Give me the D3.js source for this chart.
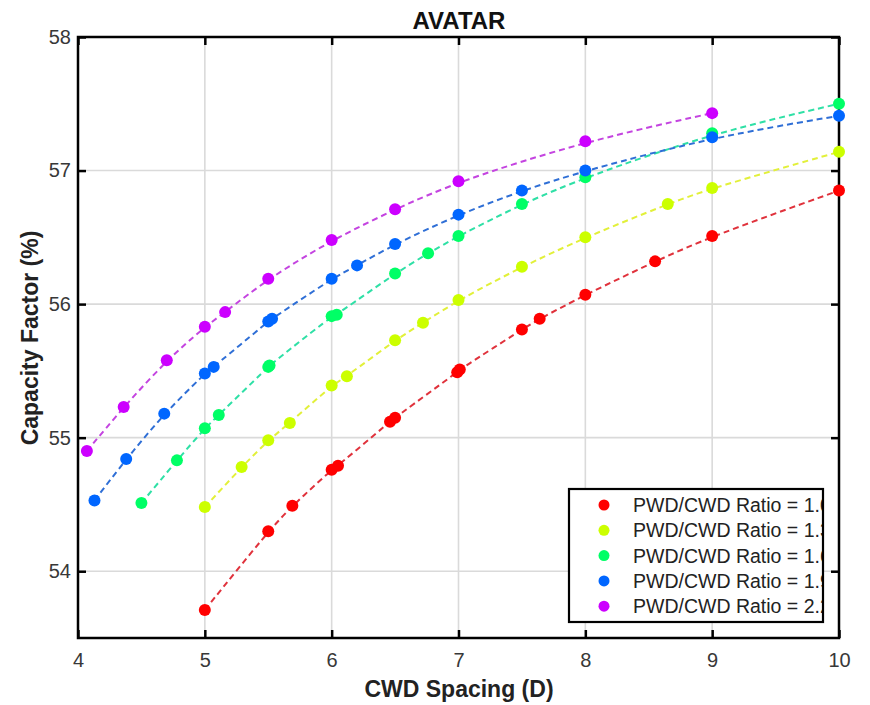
<!DOCTYPE html>
<meta charset="utf-8">
<style>
    body { margin: 0; background: #fff; }
    svg text { font-family: Arial, "Liberation Sans", sans-serif; }
</style>
<svg width="870" height="705"></svg>
<script src="https://d3js.org/d3.v7.min.js"></script>
<script>
    const ratios = ["1.0", "1.3", "1.6", "1.9", "2.2"]
    const xTicks = [4, 5, 6, 7, 8, 9, 10]
    const yTicks = [54, 55, 56, 57, 58]

    const x10 = [5.0, 5.5, 5.69, 6.0, 6.05, 6.46, 6.5, 6.99, 7.01, 7.5, 7.64, 8.0, 8.55, 9.0, 10.0]
    const y10 = [53.71, 54.30, 54.49, 54.76, 54.79, 55.12, 55.15, 55.49, 55.51, 55.81, 55.89, 56.07, 56.32, 56.51, 56.85]
    const x13 = [5.0, 5.29, 5.5, 5.67, 6.0, 6.12, 6.5, 6.72, 7.0, 7.5, 8.0, 8.65, 9.0, 10.0]
    const y13 = [54.48, 54.78, 54.98, 55.11, 55.39, 55.46, 55.73, 55.86, 56.03, 56.28, 56.50, 56.75, 56.87, 57.14]
    const x16 = [4.5, 4.78, 5.0, 5.11, 5.5, 5.51, 6.0, 6.04, 6.5, 6.76, 7.0, 7.5, 8.0, 9.0, 10.0]
    const y16 = [54.51, 54.83, 55.07, 55.17, 55.53, 55.54, 55.91, 55.92, 56.23, 56.38, 56.51, 56.75, 56.95, 57.28, 57.50]
    const x19 = [4.13, 4.38, 4.68, 5.0, 5.07, 5.5, 5.53, 6.0, 6.2, 6.5, 7.0, 7.5, 8.0, 9.0, 10.0]
    const y19 = [54.53, 54.84, 55.18, 55.48, 55.53, 55.87, 55.89, 56.19, 56.29, 56.45, 56.67, 56.85, 57.00, 57.25, 57.41]
    const x22 = [4.07, 4.36, 4.70, 5.0, 5.16, 5.5, 6.0, 6.5, 7.0, 8.0, 9.0]
    const y22 = [54.90, 55.23, 55.58, 55.83, 55.94, 56.19, 56.48, 56.71, 56.92, 57.22, 57.43]

    const dotColors = ["#ff0000", "#ccff00", "#00ff66", "#0066ff", "#cc00ff"]
    const lineColors = ["#e0323c", "#e2f03a", "#2fe0a6", "#2f6fd6", "#c444e0"]

    const series = [[x10, y10], [x13, y13], [x16, y16], [x19, y19], [x22, y22]].map((s, i) => ({
        name: "PWD/CWD Ratio = " + ratios[i],
        dot: dotColors[i],
        line: lineColors[i],
        values: s[0].map((v, j) => ({ x: v, y: s[1][j] }))
    }))

    const svg = d3.select("svg")
    const pLeft = 78, pRight = 839, pTop = 37, pBottom = 638

    const x = d3.scaleLinear().domain([4, 10]).range([pLeft, pRight])
    const y = d3.scaleLinear().domain([53.5, 58]).range([pBottom, pTop])
    const fmt = d3.format("d")

    // grid
    svg.append("g").selectAll("line").data(xTicks.slice(1, -1)).join("line")
        .attr("x1", d => x(d)).attr("x2", d => x(d))
        .attr("y1", pTop).attr("y2", pBottom)
        .attr("stroke", "#dadada").attr("stroke-width", 1.6)
    svg.append("g").selectAll("line").data(yTicks.slice(0, -1)).join("line")
        .attr("x1", pLeft).attr("x2", pRight)
        .attr("y1", d => y(d)).attr("y2", d => y(d))
        .attr("stroke", "#dadada").attr("stroke-width", 1.6)

    // dashed fitted curves
    const line = d3.line().x(d => x(d.x)).y(d => y(d.y)).curve(d3.curveBasis)
    svg.append("g").selectAll("path").data(series).join("path")
        .attr("d", d => line(d.values))
        .attr("fill", "none")
        .attr("stroke", d => d.line)
        .attr("stroke-width", 2)
        .attr("stroke-dasharray", "6,4")

    // axes, ticks pointing inward
    function styleAxis(g) {
        g.select(".domain").remove()
        g.selectAll(".tick line").attr("stroke", "#000").attr("stroke-width", 2.5)
        g.selectAll(".tick text").attr("fill", "#383838").attr("font-size", 20)
            .attr("font-family", "Arial, 'Liberation Sans', sans-serif")
    }
    svg.append("g").attr("transform", `translate(0,${pBottom})`)
        .call(d3.axisBottom(x).tickValues(xTicks).tickFormat(fmt).tickSize(-8).tickPadding(15))
        .call(styleAxis)
    svg.append("g").attr("transform", `translate(0,${pTop})`)
        .call(d3.axisTop(x).tickValues(xTicks).tickSize(-8).tickFormat(""))
        .call(styleAxis)
    svg.append("g").attr("transform", `translate(${pLeft},0)`)
        .call(d3.axisLeft(y).tickValues(yTicks).tickFormat(fmt).tickSize(-8).tickPadding(7))
        .call(styleAxis)
    svg.append("g").attr("transform", `translate(${pRight},0)`)
        .call(d3.axisRight(y).tickValues(yTicks).tickSize(-8).tickFormat(""))
        .call(styleAxis)

    svg.append("rect")
        .attr("x", pLeft).attr("y", pTop)
        .attr("width", pRight - pLeft).attr("height", pBottom - pTop)
        .attr("fill", "none").attr("stroke", "#000").attr("stroke-width", 2.5)

    // markers
    svg.append("g").selectAll("g").data(series).join("g")
        .attr("fill", d => d.dot)
        .selectAll("circle").data(d => d.values).join("circle")
        .attr("cx", d => x(d.x)).attr("cy", d => y(d.y)).attr("r", 6)

    // labels
    svg.append("text").attr("x", 459).attr("y", 29)
        .attr("text-anchor", "middle").attr("font-size", 24).attr("font-weight", "bold")
        .attr("fill", "#111").text("AVATAR")
    svg.append("text").attr("x", 459).attr("y", 697)
        .attr("text-anchor", "middle").attr("font-size", 23).attr("font-weight", "bold")
        .attr("fill", "#222").text("CWD Spacing (D)")
    svg.append("text").attr("transform", "translate(38,338) rotate(-90)")
        .attr("text-anchor", "middle").attr("font-size", 23).attr("font-weight", "bold")
        .attr("fill", "#222").text("Capacity Factor (%)")

    // legend, text cut by the box like in the original
    const lx = 569, ly = 489, lw = 254, lh = 133
    svg.append("clipPath").attr("id", "legclip")
        .append("rect").attr("x", lx).attr("y", ly).attr("width", lw).attr("height", lh)
    svg.append("rect").attr("x", lx).attr("y", ly).attr("width", lw).attr("height", lh)
        .attr("fill", "#fff")
    const leg = svg.append("g").attr("clip-path", "url(#legclip)")
    const rows = leg.selectAll("g").data(series).join("g")
        .attr("transform", (d, i) => `translate(0,${505 + i * 25.3})`)
    rows.append("circle").attr("cx", 604).attr("cy", 0).attr("r", 5.5).attr("fill", d => d.dot)
    rows.append("text").attr("x", 633).attr("dy", "0.36em")
        .attr("font-size", 19.5).attr("fill", "#222").text(d => d.name)
    svg.append("rect").attr("x", lx).attr("y", ly).attr("width", lw).attr("height", lh)
        .attr("fill", "none").attr("stroke", "#000").attr("stroke-width", 2.2)
</script>
